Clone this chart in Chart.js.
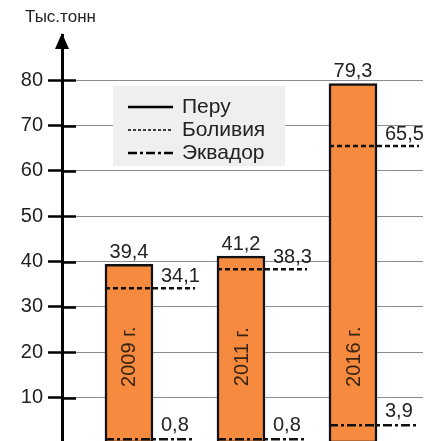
<!DOCTYPE html>
<html>
<head>
<meta charset="utf-8">
<script src="https://cdn.jsdelivr.net/npm/chart.js@4/dist/chart.umd.min.js"></script>
<style>
  html, body { margin: 0; padding: 0; background: #fff; }
  #wrap { width: 431px; height: 441px; }
</style>
</head>
<body>
<div id="wrap"><canvas id="chart"></canvas></div>
<script>
const years = ["2009 г.", "2011 г.", "2016 г."];
const peru = [39.4, 41.2, 79.3];
const bolivia = [34.1, 38.3, 65.5];
const ecuador = [0.8, 0.8, 3.9];
const yTicks = [10, 20, 30, 40, 50, 60, 70, 80];
const legendNames = ["Перу", "Боливия", "Эквадор"];
const unitTitle = "Тыс.тонн";

const FONT = "'Liberation Sans', Arial, sans-serif";
const fmt = (v) => v.toFixed(1).replace(".", ",");

const extras = {
  id: "extras",
  afterDraw(chart) {
    const ctx = chart.ctx;
    const y = chart.scales.y;
    const area = chart.chartArea;
    const bars = chart.getDatasetMeta(0).data;
    ctx.save();

    // inner part of the tick marks
    ctx.strokeStyle = "#000";
    ctx.lineWidth = 2.5;
    yTicks.forEach((t) => {
      const py = Math.round(y.getPixelForValue(t)) + 0.5;
      ctx.beginPath();
      ctx.moveTo(area.left, py);
      ctx.lineTo(area.left + 14, py);
      ctx.stroke();
    });

    // arrow head
    ctx.fillStyle = "#000";
    ctx.beginPath();
    ctx.moveTo(area.left, area.top - 2);
    ctx.lineTo(area.left - 7, area.top + 14);
    ctx.lineTo(area.left + 7, area.top + 14);
    ctx.closePath();
    ctx.fill();

    // axis title
    ctx.fillStyle = "#222";
    ctx.font = "17px " + FONT;
    ctx.textAlign = "left";
    ctx.textBaseline = "middle";
    ctx.fillText(unitTitle, 25, 17);

    // Bolivia and Ecuador levels
    const drawLevel = (vals, dash, off) => {
      vals.forEach((v, i) => {
        const b = bars[i];
        const x0 = b.x - b.width / 2;
        const x1 = b.x + b.width / 2 + 42;
        const py = y.getPixelForValue(v);
        ctx.strokeStyle = "#111";
        ctx.lineWidth = 2.5;
        ctx.setLineDash(dash);
        ctx.beginPath();
        ctx.moveTo(x0, py);
        ctx.lineTo(x1, py);
        ctx.stroke();
        ctx.setLineDash([]);
        ctx.fillStyle = "#222";
        ctx.font = "20px " + FONT;
        ctx.textAlign = "left";
        ctx.textBaseline = "middle";
        ctx.fillText(fmt(v), b.x + b.width / 2 + 8, py - off);
      });
    };
    drawLevel(bolivia, [5, 3], 12);
    drawLevel(ecuador, [9, 3, 3, 3], 14);

    // Peru values and year labels
    bars.forEach((b, i) => {
      ctx.fillStyle = "#222";
      ctx.font = "20px " + FONT;
      ctx.textAlign = "center";
      ctx.textBaseline = "middle";
      ctx.fillText(fmt(peru[i]), b.x, b.y - 12);
      ctx.save();
      ctx.translate(b.x, y.getPixelForValue(19));
      ctx.rotate(-Math.PI / 2);
      ctx.fillStyle = "#3a2410";
      ctx.fillText(years[i], 0, 1);
      ctx.restore();
    });

    // legend
    ctx.fillStyle = "#efefef";
    ctx.fillRect(113, 86, 172, 80);
    const dashes = [[], [3, 2], [9, 3, 3, 3]];
    const widths = [2.5, 1.5, 2.5];
    legendNames.forEach((name, i) => {
      const ly = 107 + i * 23;
      ctx.strokeStyle = "#000";
      ctx.lineWidth = widths[i];
      ctx.setLineDash(dashes[i]);
      ctx.beginPath();
      ctx.moveTo(128, ly);
      ctx.lineTo(173, ly);
      ctx.stroke();
      ctx.setLineDash([]);
      ctx.fillStyle = "#222";
      ctx.font = "21px " + FONT;
      ctx.textAlign = "left";
      ctx.textBaseline = "middle";
      ctx.fillText(name, 182, ly);
    });

    ctx.restore();
  },
};

new Chart(document.getElementById("chart"), {
  type: "bar",
  data: {
    datasets: [
      {
        label: legendNames[0],
        data: peru.map((v, i) => ({ x: i, y: v })),
        backgroundColor: "#f68b3f",
        borderColor: "#111",
        borderWidth: 2.5,
        borderSkipped: false,
        barThickness: 48,
      },
    ],
  },
  options: {
    responsive: true,
    maintainAspectRatio: false,
    animation: false,
    layout: { padding: { top: 35, right: 8, bottom: 0, left: 0 } },
    plugins: { legend: { display: false }, tooltip: { enabled: false } },
    scales: {
      x: { type: "linear", offset: false, min: -0.598, max: 2.625, display: false },
      y: {
        min: 0.4,
        max: 90,
        afterBuildTicks: (s) => { s.ticks = yTicks.map((v) => ({ value: v })); },
        afterFit: (s) => { s.width = 62; s.paddingTop = 0; s.paddingBottom = 0; },
        border: { color: "#000", width: 3 },
        grid: { color: "#8c8c8c", lineWidth: 1, tickLength: 14, tickColor: "#000", tickWidth: 2.5 },
        ticks: { color: "#222", font: { family: FONT, size: 20 }, padding: 5 },
      },
    },
  },
  plugins: [extras],
});
</script>
</body>
</html>
